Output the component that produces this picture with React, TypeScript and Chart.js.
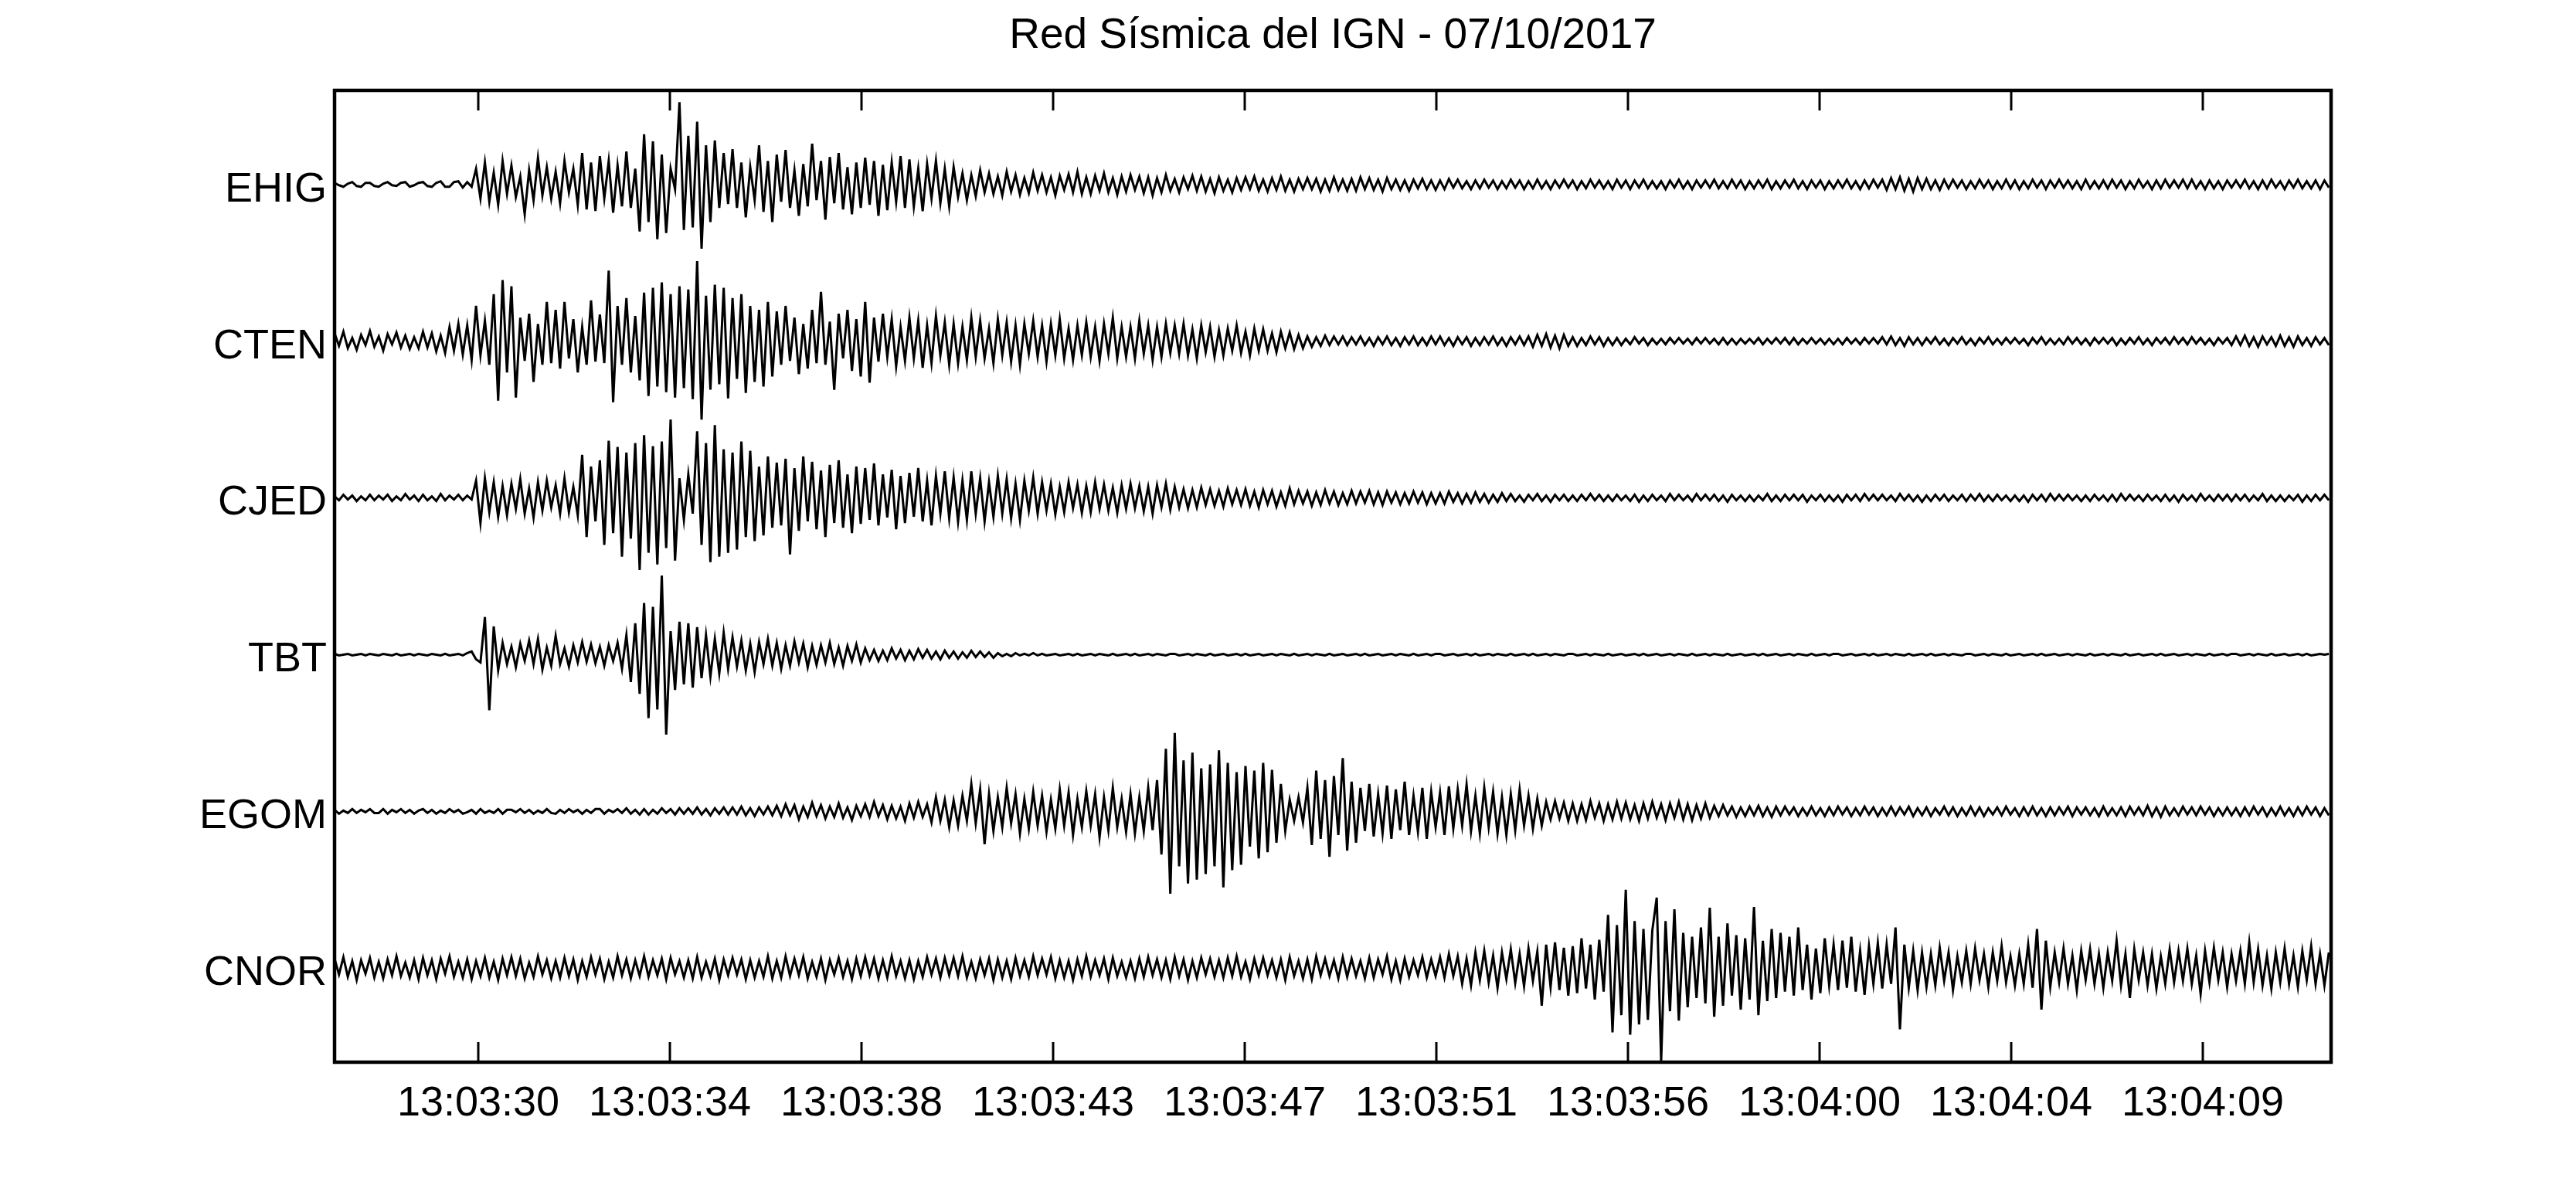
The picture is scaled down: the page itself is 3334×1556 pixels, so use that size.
import { useEffect, useRef } from "react";
import { Chart, registerables } from "chart.js";

Chart.register(...registerables);

const TITLE = "Red Sísmica del IGN - 07/10/2017";
const STATIONS = ["EHIG", "CTEN", "CJED", "TBT", "EGOM", "CNOR"];
const TRACE_LEVELS = [6, 5, 4, 3, 2, 1];
const START_SEC = 26.85; // seconds after 13:03:00
const END_SEC = 72.0;
const SAMPLE_DT = 0.1;
const AMP_PER_TRACE = 200; // amplitude units per trace spacing
const TICK_SECONDS = [30.1, 34.433, 38.767, 43.1, 47.433, 51.767, 56.1, 60.433, 64.767, 69.1];
const TICK_LABELS = ["13:03:30", "13:03:34", "13:03:38", "13:03:43", "13:03:47", "13:03:51", "13:03:56", "13:04:00", "13:04:04", "13:04:09"];

const EHIG = [
  2, -1, -3, 1, 3, -2, -3, 2, 2, -2,
  -3, 1, 3, -1, -2, 2, 3, -3, -1, 2,
  3, -2, -3, 2, 4, -3, -3, 3, 4, -4,
  3, -3, 20, -18, 28, -22, 15, -26, 30, -12,
  24, -16, 10, -38, 18, -20, 34, -14, 22, -18,
  16, -24, 30, -10, 20, -26, 40, -32, 28, -34,
  36, -18, 30, -36, 24, -28, 42, -30, 20, -60,
  64, -48, 55, -70, 38, -62, 20, -6, 105, -58,
  62, -55, 80, -82, 50, -48, 56, -30, 40, -25,
  45, -30, 28, -42, 22, -20, 50, -35, 30, -48,
  38, -22, 44, -30, 18, -40, 26, -28, 52, -20,
  30, -45, 35, -24, 40, -32, 22, -38, 28, -30,
  34, -26, 30, -40, 25, -33, 28, -22, 36, -30,
  32, -28, 20, -34, 26, -18, 30, -24, 20, -28,
  22, -16, 14, -20, 12, -15, 18, -10, 14, -12,
  10, -14, 16, -9, 12, -13, 8, -11, 15, -8,
  12, -10, 9, -14, 11, -7, 13, -10, 16, -12,
  9, -12, 11, -8, 14, -10, 8, -13, 10, -9,
  12, -7, 10, -11, 9, -14, 8, -10, 12, -8,
  7, -10, 9, -6, 11, -8, 10, -9, 7, -11,
  9, -8, 6, -10, 8, -7, 9, -6, 10, -8,
  6, -9, 8, -7, 10, -8, 6, -9, 7, -6,
  8, -6, 7, -9, 6, -8, 9, -7, 6, -8,
  7, -8, 9, -6, 8, -7, 6, -9, 8, -6,
  6, -7, 5, -8, 6, -5, 7, -6, 5, -7,
  5, -6, 7, -4, 6, -5, 4, -6, 5, -5,
  6, -4, 5, -6, 4, -5, 6, -4, 5, -6,
  4, -5, 6, -5, 4, -6, 5, -4, 6, -4,
  5, -6, 4, -5, 6, -4, 5, -5, 4, -6,
  6, -4, 5, -6, 5, -4, 6, -5, 4, -5,
  4, -6, 5, -4, 6, -5, 4, -6, 5, -4,
  5, -4, 6, -5, 4, -5, 6, -4, 5, -6,
  4, -5, 5, -4, 6, -6, 4, -5, 5, -4,
  6, -5, 4, -6, 5, -4, 5, -6, 4, -5,
  5, -4, 6, -5, 4, -6, 5, -5, 6, -4,
  6, -7, 8, -6, 9, -8, 7, -9, 8, -6,
  7, -6, 5, -7, 6, -5, 6, -4, 5, -6,
  4, -5, 6, -4, 5, -6, 4, -5, 6, -5,
  5, -6, 4, -5, 6, -4, 5, -6, 5, -4,
  6, -4, 5, -5, 4, -6, 6, -5, 4, -5,
  5, -5, 6, -4, 5, -6, 4, -5, 6, -4,
  4, -6, 5, -5, 6, -4, 5, -4, 6, -5,
  6, -5, 4, -6, 5, -5, 4, -6, 5, -4,
  5, -4, 6, -5, 4, -6, 5, -5, 6, -4,
  4, -6, 5, -4, 6, -5, 4, -5, 5, -6,
  5, -4,
];

const CTEN = [
  10, -6, 12, -9, 4, -11, 8, -5, 13, -7,
  6, -12, 9, -4, 11, -8, 7, -10, 5, -9,
  12, -8, 10, -13, 7, -15, 18, -12, 22, -17,
  20, -24, 45, -18, 26, -30, 60, -76, 78, -40,
  70, -72, 30, -25, 35, -52, 22, -30, 50, -28,
  40, -35, 50, -22, 28, -40, 18, -30, 52, -26,
  34, -28, 90, -78, 45, -30, 55, -40, 32, -50,
  62, -70, 68, -58, 75, -65, 60, -72, 70, -60,
  66, -74, 102, -100, 58, -62, 72, -55, 68, -73,
  55, -48, 60, -66, 45, -52, 40, -58, 50, -45,
  38, -30, 45, -25, 30, -42, 22, -35, 40, -28,
  63, -30, 25, -62, 35, -22, 40, -38, 28, -45,
  50, -53, 30, -26, 35, -20, 28, -32, 18, -25,
  30, -22, 26, -34, 20, -28, 32, -18, 24, -30,
  22, -28, 18, -24, 30, -20, 26, -22, 16, -28,
  28, -18, 24, -26, 20, -30, 22, -16, 26, -20,
  20, -26, 22, -18, 28, -22, 16, -24, 20, -18,
  24, -20, 18, -25, 22, -16, 30, -22, 18, -20,
  18, -22, 26, -16, 20, -24, 18, -20, 22, -15,
  20, -16, 22, -18, 15, -22, 20, -14, 18, -20,
  14, -18, 16, -12, 20, -15, 12, -18, 16, -12,
  15, -12, 10, -14, 12, -9, 11, -10, 8, -9,
  6, -7, 5, -6, 7, -5, 6, -4, 6, -5,
  5, -4, 6, -5, 4, -6, 5, -4, 6, -5,
  4, -6, 5, -4, 6, -5, 4, -5, 6, -4,
  6, -5, 4, -6, 5, -4, 5, -6, 4, -5,
  5, -4, 6, -5, 4, -6, 5, -4, 6, -5,
  6, -7, 8, -6, 9, -8, 7, -9, 8, -6,
  5, -6, 4, -5, 6, -4, 5, -6, 4, -5,
  4, -5, 3, -4, 5, -3, 4, -5, 3, -4,
  3, -4, 4, -3, 4, -3, 3, -4, 4, -3,
  4, -3, 3, -4, 4, -4, 3, -4, 3, -3,
  3, -3, 4, -4, 3, -3, 4, -3, 4, -4,
  4, -4, 3, -3, 4, -3, 3, -4, 3, -4,
  3, -4, 4, -3, 3, -4, 4, -3, 4, -3,
  5, -4, 6, -5, 4, -6, 5, -4, 4, -5,
  4, -3, 5, -4, 3, -5, 4, -3, 5, -4,
  3, -5, 4, -3, 5, -4, 3, -4, 4, -3,
  4, -3, 3, -5, 4, -3, 5, -4, 3, -4,
  3, -4, 5, -3, 4, -4, 3, -5, 4, -3,
  4, -3, 4, -5, 3, -4, 4, -3, 5, -4,
  3, -5, 4, -3, 4, -4, 5, -3, 4, -4,
  5, -3, 4, -4, 3, -5, 4, -3, 4, -5,
  6, -5, 7, -6, 5, -7, 6, -4, 5, -6,
  7, -6, 5, -7, 6, -5, 4, -6, 5, -4,
  4, -5,
];

const CJED = [
  2, -3, 4, -2, 3, -4, 2, -3, 4, -3,
  3, -2, 4, -4, 2, -3, 5, -2, 3, -4,
  4, -3, 2, -4, 5, -3, 3, -2, 4, -3,
  3, -2, 22, -32, 25, -18, 20, -24, 15, -22,
  18, -14, 24, -20, 12, -25, 20, -16, 22, -12,
  16, -20, 25, -18, 14, -22, 55, -50, 40, -30,
  48, -60, 73, -45, 65, -75, 58, -52, 70, -92,
  80, -70, 66, -85, 72, -64, 100, -80, 25, -28,
  30, -20, 85, -60, 70, -82, 93, -75, 62, -70,
  58, -66, 72, -50, 60, -55, 40, -48, 53, -38,
  45, -35, 50, -72, 38, -42, 53, -30, 46, -40,
  35, -50, 42, -32, 48, -38, 30, -45, 40, -33,
  38, -28, 44, -35, 30, -25, 36, -40, 28, -32,
  32, -24, 38, -30, 22, -35, 28, -20, 34, -26,
  26, -30, 22, -28, 34, -20, 25, -30, 20, -24,
  28, -20, 24, -26, 18, -28, 22, -16, 26, -20,
  20, -16, 18, -21, 14, -18, 20, -13, 17, -19,
  15, -18, 20, -14, 17, -16, 13, -19, 16, -14,
  18, -13, 15, -17, 14, -20, 16, -12, 18, -15,
  14, -12, 11, -13, 10, -12, 13, -9, 11, -10,
  9, -11, 12, -8, 10, -9, 11, -10, 8, -12,
  10, -8, 9, -11, 7, -10, 12, -8, 9, -7,
  8, -10, 7, -9, 10, -7, 8, -9, 6, -8,
  9, -7, 8, -6, 9, -8, 7, -9, 8, -6,
  7, -8, 6, -7, 8, -6, 7, -8, 6, -7,
  6, -7, 8, -5, 6, -7, 5, -6, 7, -5,
  5, -6, 4, -5, 6, -4, 5, -4, 3, -5,
  4, -3, 5, -4, 3, -5, 4, -3, 4, -4,
  3, -4, 4, -3, 5, -3, 4, -4, 3, -4,
  4, -3, 3, -4, 4, -5, 3, -4, 4, -3,
  3, -4, 5, -3, 4, -3, 3, -4, 5, -3,
  4, -3, 4, -4, 3, -5, 4, -3, 3, -4,
  3, -4, 3, -3, 5, -4, 3, -4, 4, -3,
  4, -3, 4, -5, 3, -3, 4, -4, 3, -4,
  3, -5, 4, -3, 4, -4, 5, -3, 4, -3,
  4, -3, 3, -4, 5, -3, 4, -4, 3, -5,
  3, -4, 4, -3, 4, -4, 3, -3, 4, -4,
  4, -3, 5, -4, 3, -4, 4, -3, 3, -4,
  3, -4, 3, -5, 4, -3, 4, -4, 5, -3,
  4, -3, 4, -3, 3, -4, 3, -4, 4, -3,
  3, -4, 4, -4, 5, -3, 4, -3, 3, -4,
  4, -3, 3, -4, 4, -4, 3, -5, 4, -3,
  3, -4, 5, -3, 3, -4, 4, -3, 4, -4,
  4, -3, 4, -4, 3, -3, 5, -4, 3, -4,
  3, -4, 3, -3, 4, -5, 3, -4, 4, -3,
  4, -3,
];

const TBT = [
  1, -1, 0, 1, -1, 0, 1, -1, 1, 0,
  -1, 1, 0, -1, 1, -1, 0, 1, -1, 1,
  0, -1, 1, 0, -1, 1, -1, 0, 1, -1,
  2, 4, -6, -10, 48, -71, 36, -20, 15, -12,
  10, -16, 14, -8, 18, -12, 20, -19, 9, -14,
  24, -12, 8, -15, 12, -10, 16, -9, 13, -11,
  10, -14, 12, -8, 15, -18, 25, -35, 40, -50,
  66, -81, 61, -70, 101, -102, 30, -45, 42, -38,
  40, -42, 35, -30, 25, -28, 20, -24, 28, -18,
  22, -15, 18, -20, 14, -22, 16, -12, 20, -14,
  15, -18, 12, -14, 17, -10, 14, -16, 11, -13,
  12, -10, 15, -12, 9, -14, 11, -8, 13, -10,
  8, -7, 6, -8, 5, -7, 8, -5, 6, -7,
  5, -6, 7, -4, 6, -5, 4, -6, 5, -4,
  4, -5, 3, -4, 5, -3, 4, -3, 3, -4,
  2, -2, 1, -2, 2, -1, 1, -1, 2, -1,
  1, -1, 0, 1, -1, 0, 1, -1, 1, -1,
  0, 1, -1, 1, 0, -1, 1, -1, 0, 1,
  -1, 1, -1, 0, 1, -1, 1, 0, -1, 1,
  1, -1, 0, 1, -1, 1, 0, -1, 1, -1,
  0, 1, -1, 0, 1, -1, 1, -1, 0, 1,
  -1, 0, 1, -1, 1, 0, -1, 1, -1, 0,
  1, -1, 1, 0, -1, 1, -1, 0, 1, -1,
  0, 1, -1, 1, -1, 0, 1, -1, 0, 1,
  -1, 1, 0, -1, 1, -1, 0, 1, -1, 1,
  1, -1, 0, 1, -1, 0, 1, -1, 1, -1,
  0, 1, -1, 1, 0, -1, 1, -1, 0, 1,
  -1, 1, -1, 0, 1, -1, 1, 0, -1, 1,
  1, -1, 0, 1, -1, 1, 0, -1, 1, -1,
  0, 1, -1, 0, 1, -1, 1, -1, 0, 1,
  -1, 0, 1, -1, 1, 0, -1, 1, -1, 0,
  1, -1, 1, 0, -1, 1, -1, 0, 1, -1,
  0, 1, -1, 1, -1, 0, 1, -1, 0, 1,
  -1, 1, 0, -1, 1, -1, 0, 1, -1, 1,
  1, -1, 0, 1, -1, 0, 1, -1, 1, -1,
  0, 1, -1, 1, 0, -1, 1, -1, 0, 1,
  -1, 1, -1, 0, 1, -1, 1, 0, -1, 1,
  1, -1, 0, 1, -1, 1, 0, -1, 1, -1,
  0, 1, -1, 0, 1, -1, 1, -1, 0, 1,
  -1, 0, 1, -1, 1, 0, -1, 1, -1, 0,
  1, -1, 1, 0, -1, 1, -1, 0, 1, -1,
  0, 1, -1, 1, -1, 0, 1, -1, 0, 1,
  -1, 1, 0, -1, 1, -1, 0, 1, -1, 1,
  1, -1, 0, 1, -1, 1, 0, -1, 1, -1,
  0, 1, -1, 0, 1, -1, 1, -1, 0, 1,
  0, 1,
];

const EGOM = [
  2, -3, 1, -2, 3, -2, 2, -1, 3, -2,
  -2, 3, -3, 2, -1, 3, -2, 2, -3, 1,
  3, -2, 2, -3, 1, -2, 3, -1, 2, -3,
  -1, 2, -3, 3, -2, 1, -2, 3, -3, 2,
  2, -1, 3, -2, 2, -3, 1, -2, 3, -2,
  -3, 2, -2, 3, -1, 2, -3, 2, -2, 3,
  3, -3, 2, -1, 3, -2, 4, -3, 2, -4,
  3, -4, 2, -3, 4, -2, 3, -4, 4, -3,
  4, -3, 5, -4, 3, -5, 4, -3, 5, -4,
  5, -4, 6, -5, 4, -6, 5, -4, 6, -5,
  7, -6, 9, -5, 8, -10, 6, -7, 11, -6,
  8, -9, 6, -7, 10, -8, 5, -11, 7, -6,
  9, -7, 12, -6, 8, -10, 7, -9, 6, -12,
  10, -8, 12, -7, 9, -14, 18, -12, 15, -20,
  14, -18, 20, -12, 35, -15, 28, -42, 22, -25,
  18, -20, 30, -15, 22, -28, 16, -22, 25, -18,
  20, -26, 15, -22, 28, -18, 24, -30, 16, -20,
  26, -18, 22, -33, 18, -24, 30, -20, 16, -26,
  22, -28, 18, -25, 30, -24, 40, -55, 80, -105,
  100, -70, 65, -92, 75, -87, 55, -80, 60, -70,
  78, -97, 62, -75, 50, -68, 58, -45, 52, -60,
  62, -52, 53, -40, 35, -25, 15, -12, 18, -14,
  30, -43, 52, -35, 40, -58, 45, -30, 68, -50,
  38, -40, 30, -25, 35, -32, 22, -28, 33, -35,
  28, -24, 38, -30, 20, -26, 30, -35, 25, -20,
  24, -30, 32, -22, 28, -18, 34, -25, 20, -28,
  30, -20, 25, -28, 18, -30, 22, -24, 28, -18,
  20, -22, 16, -18, 12, -10, 13, -9, 11, -12,
  10, -12, 9, -11, 13, -8, 10, -12, 9, -10,
  12, -9, 11, -10, 8, -12, 10, -9, 12, -8,
  9, -11, 10, -8, 12, -10, 9, -11, 8, -9,
  10, -8, 7, -6, 8, -5, 6, -7, 5, -6,
  6, -5, 7, -6, 5, -7, 6, -5, 6, -4,
  5, -6, 4, -5, 6, -5, 4, -6, 5, -5,
  6, -4, 5, -6, 4, -5, 6, -4, 5, -6,
  4, -5, 6, -5, 5, -4, 6, -6, 4, -5,
  5, -6, 4, -4, 6, -5, 5, -6, 4, -5,
  6, -5, 5, -6, 4, -4, 5, -5, 6, -4,
  4, -6, 5, -5, 6, -5, 4, -6, 5, -5,
  5, -4, 6, -6, 5, -4, 5, -5, 4, -6,
  6, -5, 4, -5, 5, -6, 6, -4, 5, -5,
  7, -6, 5, -7, 6, -5, 4, -5, 6, -4,
  5, -5, 6, -4, 5, -6, 4, -5, 5, -5,
  4, -6, 5, -5, 6, -4, 5, -6, 4, -5,
  6, -5, 4, -6, 5, -5, 6, -4, 5, -6,
  4, -5,
];

const CNOR = [
  12, -8, 14, -11, 9, -15, 10, -7, 13, -12,
  8, -13, 11, -9, 15, -10, 7, -12, 10, -14,
  13, -9, 10, -14, 12, -7, 15, -11, 8, -12,
  11, -14, 9, -10, 13, -12, 8, -15, 12, -9,
  14, -10, 12, -13, 7, -11, 15, -8, 10, -13,
  9, -12, 13, -10, 11, -15, 9, -11, 14, -8,
  12, -14, 8, -12, 15, -9, 11, -13, 10, -10,
  15, -11, 10, -9, 12, -14, 13, -8, 9, -12,
  10, -13, 14, -12, 8, -10, 12, -15, 11, -9,
  13, -8, 11, -14, 10, -12, 9, -11, 15, -13,
  9, -12, 15, -10, 12, -9, 14, -13, 8, -11,
  12, -15, 10, -8, 13, -11, 9, -14, 12, -10,
  14, -9, 12, -13, 10, -12, 15, -10, 9, -13,
  10, -14, 9, -11, 14, -8, 12, -12, 13, -9,
  13, -10, 15, -12, 8, -13, 11, -9, 12, -15,
  11, -12, 9, -14, 13, -10, 10, -11, 15, -9,
  12, -8, 14, -13, 10, -12, 9, -15, 11, -10,
  15, -11, 10, -9, 12, -14, 13, -10, 8, -12,
  9, -13, 12, -11, 14, -9, 11, -12, 10, -14,
  14, -10, 11, -15, 9, -12, 13, -8, 12, -11,
  10, -12, 13, -10, 15, -11, 8, -14, 12, -9,
  13, -9, 10, -12, 11, -15, 14, -10, 9, -13,
  11, -14, 15, -9, 12, -10, 10, -13, 14, -11,
  12, -10, 9, -13, 13, -12, 11, -8, 15, -14,
  9, -15, 12, -11, 10, -9, 14, -12, 11, -10,
  14, -12, 18, -10, 15, -20, 12, -22, 20, -15,
  22, -18, 16, -25, 20, -14, 24, -19, 18, -23,
  25, -16, 21, -48, 30, -24, 33, -28, 26, -35,
  28, -32, 38, -26, 30, -40, 36, -30, 68, -82,
  55, -60, 100, -85, 60, -72, 50, -66, 48, 90,
  -119, 60, -55, 75, -67, 45, -50, 40, -38, 52,
  -45, 77, -62, 40, -48, 57, -35, 42, -53, 38,
  -40, 78, -60, 35, -42, 50, -38, 45, -30, 40,
  -35, 52, -28, 30, -40, 25, -32, 38, -22, 30,
  -28, 35, -25, 40, -30, 22, -34, 28, -20, 32,
  -26, 30, -20, 52, -78, 30, -25, 22, -28, 20,
  -24, 18, -22, 26, -16, 20, -28, 15, -18, 22,
  -20, 25, -15, 18, -24, 20, -16, 28, -18, 15,
  -22, 18, -20, 30, -25, 50, -53, 35, -24, 20,
  -18, 25, -20, 16, -28, 22, -15, 24, -20, 18,
  -25, 20, -16, 35, -22, 18, -38, 24, -15, 20,
  -22, 18, -26, 15, -20, 24, -18, 22, -16, 25,
  -20, 16, -33, 22, -18, 26, -15, 20, -24, 18,
  -16, 22, -20, 33, -18, 24, -22, 16, -26, 20,
  -18, 25, -20, 16, -24, 22, -15, 28, -20, 18,
  -22, 20,
];

const SERIES = [EHIG, CTEN, CJED, TBT, EGOM, CNOR];

const FONT_FAMILY = "'Liberation Sans', Arial, Helvetica, sans-serif";

const framePlugin = {
  id: "matlabFrame",
  afterLayout(chart: any) {
    const tb = chart.titleBlock;
    const area = chart.chartArea;
    if (tb && area) {
      tb.left = area.left;
      tb.right = area.right;
      tb.width = area.right - area.left;
    }
  },
  afterDatasetsDraw(chart: any) {
    const { ctx, chartArea, scales } = chart;
    const { left, right, top, bottom } = chartArea;
    const xs = scales.x;
    ctx.save();
    ctx.strokeStyle = "#000";
    ctx.lineWidth = 3;
    ctx.beginPath();
    for (const t of xs.ticks) {
      const px = Math.round(xs.getPixelForValue(t.value));
      ctx.moveTo(px, bottom);
      ctx.lineTo(px, bottom - 26);
      ctx.moveTo(px, top);
      ctx.lineTo(px, top + 26);
    }
    ctx.stroke();
    ctx.lineWidth = 4.5;
    ctx.strokeRect(left, top, right - left, bottom - top);
    ctx.restore();
  },
};

export default function App() {
  const canvasRef = useRef<HTMLCanvasElement | null>(null);

  useEffect(() => {
    document.body.style.margin = "0";
    document.body.style.background = "#fff";
    const canvas = canvasRef.current;
    if (!canvas) return;

    const datasets = SERIES.map((values, k) => ({
      label: STATIONS[k],
      data: values.map((v, i) => ({
        x: START_SEC + i * SAMPLE_DT,
        y: TRACE_LEVELS[k] + v / AMP_PER_TRACE,
      })),
      borderColor: "#000",
      backgroundColor: "#000",
      borderWidth: 3,
      pointRadius: 0,
      pointHoverRadius: 0,
      tension: 0,
      fill: false,
    }));

    const chart = new Chart(canvas, {
      type: "line",
      data: { datasets },
      plugins: [framePlugin],
      options: {
        animation: false,
        responsive: true,
        maintainAspectRatio: false,
        parsing: false,
        normalized: true,
        events: [],
        layout: { padding: { left: 0, right: 317, top: 0, bottom: 0 } },
        plugins: {
          legend: { display: false },
          tooltip: { enabled: false },
          title: {
            display: true,
            text: TITLE,
            color: "#000",
            font: { family: FONT_FAMILY, size: 55, weight: "normal" },
            padding: { top: 14, bottom: 37 },
          },
        },
        scales: {
          x: {
            type: "linear",
            min: START_SEC,
            max: END_SEC,
            afterBuildTicks: (scale: any) => {
              scale.ticks = TICK_SECONDS.map((v) => ({ value: v }));
            },
            afterFit: (scale: any) => {
              scale.height = 181;
            },
            grid: { display: false, drawTicks: false },
            border: { display: false },
            ticks: {
              autoSkip: false,
              maxRotation: 0,
              minRotation: 0,
              padding: 22,
              color: "#000",
              font: { family: FONT_FAMILY, size: 54 },
              callback: (_v: any, idx: number) => TICK_LABELS[idx],
            },
          },
          y: {
            type: "linear",
            min: 0.4,
            max: 6.6,
            afterBuildTicks: (scale: any) => {
              scale.ticks = TRACE_LEVELS.map((v) => ({ value: v }));
            },
            afterFit: (scale: any) => {
              scale.width = 433;
            },
            grid: { display: false, drawTicks: false },
            border: { display: false },
            ticks: {
              autoSkip: false,
              padding: 10,
              labelOffset: 7,
              color: "#000",
              font: { family: FONT_FAMILY, size: 54 },
              callback: (v: any) => STATIONS[TRACE_LEVELS.indexOf(Number(v))] ?? "",
            },
          },
        },
      },
    });

    return () => {
      chart.destroy();
    };
  }, []);

  return (
    <div style={{ width: "3334px", height: "1556px", position: "relative", background: "#fff" }}>
      <canvas ref={canvasRef} />
    </div>
  );
}
